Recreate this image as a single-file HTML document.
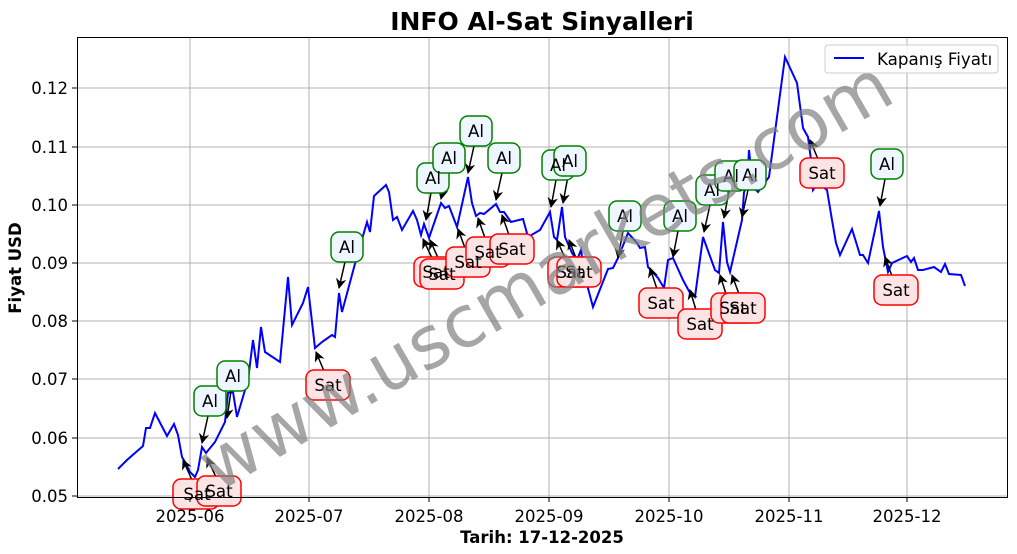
<!DOCTYPE html>
<html><head><meta charset="utf-8"><style>body{margin:0;background:#fff}svg{display:block;font-family:"DejaVu Sans","Liberation Sans",sans-serif}</style></head><body>
<svg width="1017" height="554" viewBox="0 0 1017 554" xmlns="http://www.w3.org/2000/svg">
<defs><marker id="ah" viewBox="0 0 10 10" refX="9" refY="5" markerWidth="7" markerHeight="7" orient="auto-start-reverse"><path d="M0,0 L10,5 L0,10 L3,5z" fill="#000"/></marker></defs>
<rect width="1017" height="554" fill="#fff"/>
<g stroke="#b0b0b0" stroke-width="1">
<line x1="190" y1="37" x2="190" y2="497"/><line x1="309" y1="37" x2="309" y2="497"/><line x1="429" y1="37" x2="429" y2="497"/><line x1="549" y1="37" x2="549" y2="497"/><line x1="669" y1="37" x2="669" y2="497"/><line x1="789" y1="37" x2="789" y2="497"/><line x1="907" y1="37" x2="907" y2="497"/>
<line x1="77" y1="496" x2="1007" y2="496"/><line x1="77" y1="438" x2="1007" y2="438"/><line x1="77" y1="379" x2="1007" y2="379"/><line x1="77" y1="321" x2="1007" y2="321"/><line x1="77" y1="263" x2="1007" y2="263"/><line x1="77" y1="205" x2="1007" y2="205"/><line x1="77" y1="147" x2="1007" y2="147"/><line x1="77" y1="88" x2="1007" y2="88"/>
</g>
<polyline fill="none" stroke="#0000ff" stroke-width="2" points="118,469 127,460 143,446 146,428 150,428 155,413 167,436 174,424 178,435 182,457 185,462 190,472 195,477 198,470 202,447 206,453 215,442 225,422 228,393 233,392 237,417 248,380 253,340 257,368 261,327 265,352 280,362 288,277 292,325 303,303 308,287 315,348 322,342 332,335 335,337 339,293 342,312 356,260 367,222 370,232 374,196 386,185 389,192 393,220 397,217 402,230 413,211 417,220 421,235 424,224 429,238 441,203 445,208 449,206 457,227 468,177 472,203 476,216 480,213 484,214 496,204 500,212 504,212 511,222 523,219 528,237 540,230 550,212 554,237 557,240 562,207 565,237 572,253 577,260 581,250 585,277 593,307 608,269 613,268 618,258 628,233 637,243 640,248 645,247 648,267 658,278 664,288 668,260 673,258 683,280 690,293 695,297 703,237 715,270 719,273 723,222 727,262 730,272 742,220 744,192 747,187 749,150 753,187 758,192 769,177 785,57 797,83 803,128 808,137 811,160 813,190 818,183 827,190 832,220 836,243 840,255 852,229 860,255 863,255 868,263 879,211 883,247 888,272 892,263 907,256 911,262 914,258 918,270 923,270 934,267 941,272 945,264 949,274 961,275 965,286"/>
<g font-size="16.7" text-anchor="middle" stroke-width="1.5">
<g stroke="#000" fill="none" marker-end="url(#ah)">
<line x1="192" y1="480" x2="183" y2="460"/><line x1="216" y1="477" x2="207" y2="458"/>
<line x1="208" y1="416" x2="202" y2="443"/><line x1="231" y1="391" x2="227" y2="418"/>
<line x1="324" y1="371" x2="316" y2="352"/><line x1="345" y1="262" x2="339" y2="288"/>
<line x1="431" y1="193" x2="426" y2="220"/><line x1="447" y1="173" x2="441" y2="199"/><line x1="474" y1="146" x2="468" y2="173"/><line x1="502" y1="173" x2="496" y2="200"/>
<line x1="432" y1="258" x2="423" y2="239"/><line x1="439" y1="260" x2="430" y2="240"/><line x1="465" y1="248" x2="458" y2="229"/><line x1="485" y1="238" x2="478" y2="218"/><line x1="509" y1="235" x2="502" y2="215"/>
<line x1="556" y1="180" x2="551" y2="207"/><line x1="568" y1="176" x2="563" y2="203"/>
<line x1="565" y1="258" x2="557" y2="240"/><line x1="576" y1="258" x2="569" y2="240"/>
<line x1="623" y1="231" x2="618" y2="258"/><line x1="678" y1="231" x2="673" y2="257"/>
<line x1="657" y1="289" x2="650" y2="268"/><line x1="696" y1="310" x2="690" y2="290"/>
<line x1="710" y1="205" x2="704" y2="232"/><line x1="729" y1="191" x2="724" y2="218"/><line x1="748" y1="190" x2="742" y2="217"/>
<line x1="726" y1="294" x2="720" y2="275"/><line x1="739" y1="294" x2="732" y2="275"/>
<line x1="818" y1="159" x2="810" y2="140"/><line x1="885" y1="179" x2="880" y2="206"/><line x1="892" y1="276" x2="885" y2="257"/>
</g>
<g fill="#fde4e4" stroke="#f00">
<rect x="173" y="479" width="46" height="30" rx="8"/><rect x="197" y="476" width="44" height="30" rx="8"/>
<rect x="306" y="370" width="44" height="30" rx="8"/>
<rect x="414" y="257" width="44" height="30" rx="8"/><rect x="420" y="259" width="44" height="30" rx="8"/><rect x="446" y="247" width="44" height="30" rx="8"/><rect x="466" y="237" width="44" height="30" rx="8"/><rect x="490" y="234" width="44" height="30" rx="8"/>
<rect x="548" y="257" width="44" height="30" rx="8"/><rect x="557" y="257" width="44" height="30" rx="8"/>
<rect x="639" y="288" width="44" height="30" rx="8"/><rect x="678" y="309" width="44" height="30" rx="8"/>
<rect x="711" y="293" width="44" height="30" rx="8"/><rect x="721" y="293" width="44" height="30" rx="8"/>
<rect x="800" y="158" width="44" height="30" rx="8"/><rect x="874" y="275" width="44" height="30" rx="8"/>
</g>
<g fill="#000" stroke="none">
<text x="197" y="500">Sat</text><text x="219" y="497">Sat</text><text x="328" y="391">Sat</text>
<text x="436" y="278">Sat</text><text x="442" y="280">Sat</text><text x="468" y="268">Sat</text><text x="488" y="258">Sat</text><text x="512" y="255">Sat</text>
<text x="570" y="278">Sat</text><text x="579" y="278">Sat</text><text x="661" y="309">Sat</text><text x="700" y="330">Sat</text>
<text x="733" y="314">Sat</text><text x="743" y="314">Sat</text><text x="822" y="179">Sat</text><text x="896" y="296">Sat</text>
</g>
<g fill="#eef6ff" stroke="#008000">
<rect x="194" y="386" width="32" height="30" rx="8"/><rect x="217" y="361" width="32" height="30" rx="8"/>
<rect x="331" y="232" width="32" height="30" rx="8"/>
<rect x="417" y="163" width="32" height="30" rx="8"/><rect x="433" y="143" width="32" height="30" rx="8"/><rect x="460" y="116" width="32" height="30" rx="8"/><rect x="488" y="143" width="32" height="30" rx="8"/>
<rect x="542" y="150" width="32" height="30" rx="8"/><rect x="554" y="146" width="32" height="30" rx="8"/>
<rect x="609" y="201" width="32" height="30" rx="8"/><rect x="664" y="201" width="32" height="30" rx="8"/>
<rect x="696" y="175" width="32" height="30" rx="8"/><rect x="715" y="161" width="32" height="30" rx="8"/><rect x="734" y="160" width="32" height="30" rx="8"/>
<rect x="871" y="149" width="32" height="30" rx="8"/>
</g>
<g fill="#000" stroke="none">
<text x="210" y="407">Al</text><text x="233" y="382">Al</text><text x="347" y="253">Al</text>
<text x="433" y="184">Al</text><text x="449" y="164">Al</text><text x="476" y="137">Al</text><text x="504" y="164">Al</text>
<text x="558" y="171">Al</text><text x="570" y="167">Al</text><text x="625" y="222">Al</text><text x="680" y="222">Al</text>
<text x="712" y="196">Al</text><text x="731" y="182">Al</text><text x="750" y="181">Al</text><text x="887" y="170">Al</text>
</g>
</g>
<text x="545" y="300" font-size="72" fill="#808080" fill-opacity="0.7" text-anchor="middle" transform="rotate(-30 545 275)">www.uscmarkets.com</text>
<rect x="77.5" y="37.5" width="930" height="460" fill="none" stroke="#000" stroke-width="1"/>
<g stroke="#000"><line x1="190" y1="497" x2="190" y2="502"/><line x1="309" y1="497" x2="309" y2="502"/><line x1="429" y1="497" x2="429" y2="502"/><line x1="549" y1="497" x2="549" y2="502"/><line x1="669" y1="497" x2="669" y2="502"/><line x1="789" y1="497" x2="789" y2="502"/><line x1="907" y1="497" x2="907" y2="502"/>
<line x1="72" y1="496" x2="77" y2="496"/><line x1="72" y1="438" x2="77" y2="438"/><line x1="72" y1="379" x2="77" y2="379"/><line x1="72" y1="321" x2="77" y2="321"/><line x1="72" y1="263" x2="77" y2="263"/><line x1="72" y1="205" x2="77" y2="205"/><line x1="72" y1="147" x2="77" y2="147"/><line x1="72" y1="88" x2="77" y2="88"/></g>
<g font-size="16.5" text-anchor="middle" fill="#000">
<text x="190" y="522">2025-06</text><text x="309" y="522">2025-07</text><text x="429" y="522">2025-08</text><text x="549" y="522">2025-09</text><text x="669" y="522">2025-10</text><text x="789" y="522">2025-11</text><text x="907" y="522">2025-12</text></g>
<g font-size="16.5" text-anchor="end" fill="#000">
<text x="68" y="502">0.05</text><text x="68" y="444">0.06</text><text x="68" y="385">0.07</text><text x="68" y="327">0.08</text><text x="68" y="269">0.09</text><text x="68" y="211">0.10</text><text x="68" y="153">0.11</text><text x="68" y="94">0.12</text></g>
<text x="542" y="543" font-size="16.5" font-weight="bold" text-anchor="middle">Tarih: 17-12-2025</text>
<text x="21" y="268" font-size="16.5" font-weight="bold" text-anchor="middle" transform="rotate(-90 21 268)">Fiyat USD</text>
<text x="542" y="30" font-size="25" font-weight="bold" text-anchor="middle">INFO Al-Sat Sinyalleri</text>
<rect x="825" y="45" width="173" height="28" rx="3" fill="#fff" fill-opacity="0.8" stroke="#ccc"/>
<line x1="834" y1="58" x2="864" y2="58" stroke="#0000ff" stroke-width="2"/>
<text x="877" y="65" font-size="16.7">Kapanış Fiyatı</text>
</svg>
</body></html>
